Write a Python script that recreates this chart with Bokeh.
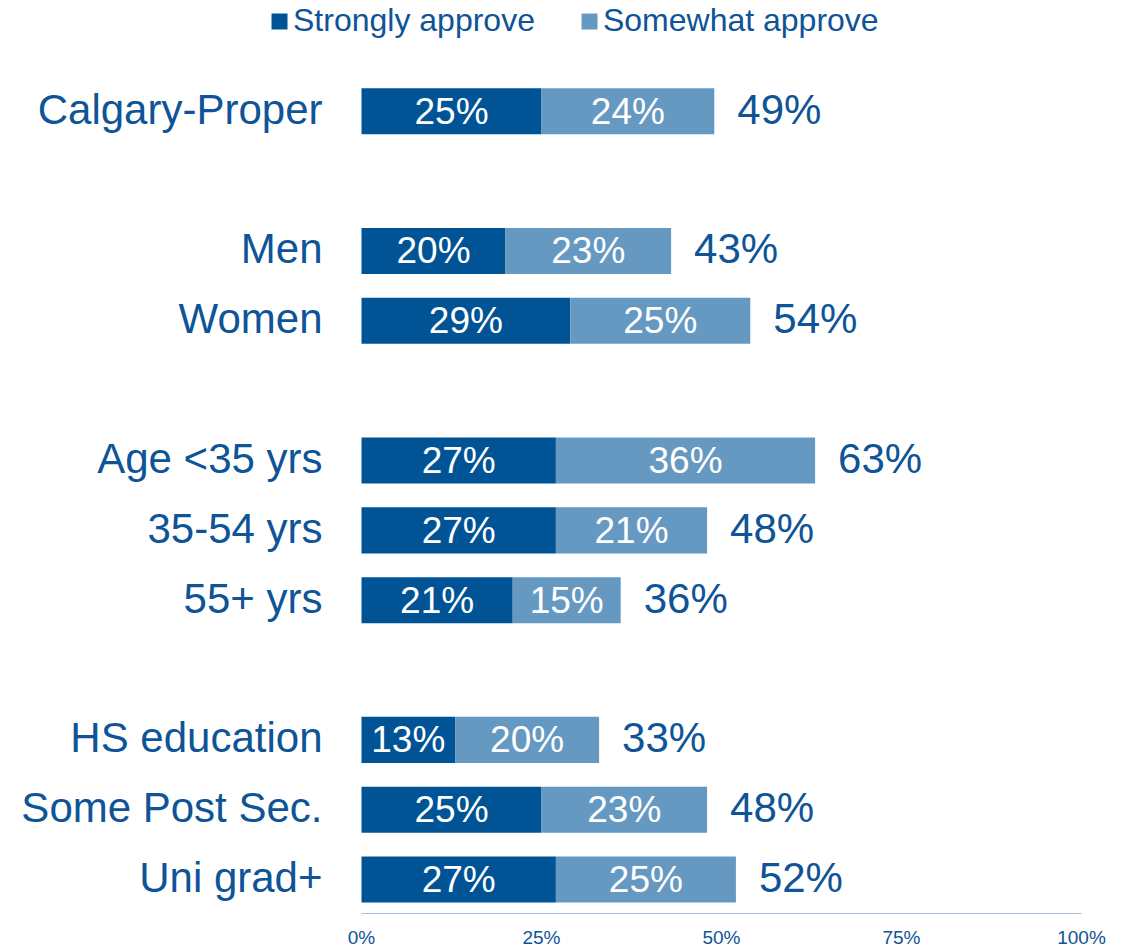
from bokeh.plotting import figure
from bokeh.models import ColumnDataSource, Range1d, FixedTicker, Legend, LegendItem
from bokeh.core.properties import value
from bokeh.embed import file_html
from bokeh.resources import INLINE

# ---- data ----
groups = [
    ["Calgary-Proper"],
    ["Men", "Women"],
    ["Age <35 yrs", "35-54 yrs", "55+ yrs"],
    ["HS education", "Some Post Sec.", "Uni grad+"],
]
strongly = [25, 20, 29, 27, 27, 21, 13, 25, 27]
somewhat = [24, 23, 25, 36, 21, 15, 20, 23, 25]
totals = [49, 43, 54, 63, 48, 36, 33, 48, 52]
series_names = ["Strongly approve", "Somewhat approve"]
x_ticks = [0, 25, 50, 75, 100]
x_tick_labels = ["0%", "25%", "50%", "75%", "100%"]

# ---- styling ----
DARK = "#005496"
LIGHT = "#6699C2"
TEXT = "#0E5497"
AXIS = "#A9C0DD"
FONT = "Liberation Sans"

# build row positions with a blank slot between groups
categories, positions = [], []
slot = 0
for g in groups:
    for name in g:
        categories.append(name)
        positions.append(slot)
        slot += 1
    slot += 1

W, H = 1120, 950
BB = 35
frame_h = H - BB
frame_w = W
zero_px = 361.0          # screen position of 0%
px_per_pct = 7.2
px_per_slot = 70.0
first_row_px = 111.0

x_start = -zero_px / px_per_pct
x_end = (frame_w - zero_px) / px_per_pct
y_top = 0 - first_row_px / px_per_slot
y_bottom = y_top + frame_h / px_per_slot

src = ColumnDataSource(dict(
    y=positions,
    cat=categories,
    zero=[0] * len(positions),
    s=strongly,
    sw=[a + b for a, b in zip(strongly, somewhat)],
    s_mid=[a / 2 for a in strongly],
    w_mid=[a + b / 2 for a, b in zip(strongly, somewhat)],
    s_lab=[f"{v}%" for v in strongly],
    w_lab=[f"{v}%" for v in somewhat],
    tot=totals,
    t_lab=[f"{v}%" for v in totals],
))

p = figure(width=W, height=H, output_backend="svg", toolbar_location=None,
           x_range=Range1d(x_start, x_end), y_range=Range1d(y_bottom, y_top),
           y_axis_location=None,
           min_border_left=0, min_border_right=0, min_border_top=0,
           min_border_bottom=BB, outline_line_color=None,
           background_fill_color="white", border_fill_color="white")
p.grid.visible = False

r1 = p.hbar(y="y", left=0, right="s", height=0.66, source=src,
            fill_color=DARK, line_color=None)
r2 = p.hbar(y="y", left="s", right="sw", height=0.66, source=src,
            fill_color=LIGHT, line_color=None)

p.text(x="s_mid", y="y", text="s_lab", source=src, text_align="center",
       text_baseline="middle", text_color="white", text_font_size="37px",
       text_font=value(FONT))
p.text(x="w_mid", y="y", text="w_lab", source=src, text_align="center",
       text_baseline="middle", text_color="white", text_font_size="37px",
       text_font=value(FONT))
p.text(x="tot", y="y", text="t_lab", source=src, text_align="left",
       text_baseline="middle", text_color=TEXT, text_font_size="42px",
       text_font=value(FONT), x_offset=23, y_offset=-2)
# category labels
p.text(x="zero", y="y", text="cat", source=src, text_align="right",
       text_baseline="middle", text_color=TEXT, text_font_size="42px",
       text_font=value(FONT), x_offset=-39, y_offset=-2)

# x axis
xa = p.xaxis[0]
xa.ticker = FixedTicker(ticks=x_ticks)
xa.bounds = (x_ticks[0], x_ticks[-1])
xa.major_label_overrides = {t: l for t, l in zip(x_ticks, x_tick_labels)}
xa.axis_line_color = AXIS
xa.axis_line_width = 1
xa.major_tick_line_color = None
xa.minor_tick_line_color = None
xa.major_tick_out = 0
xa.major_tick_in = 0
xa.major_label_standoff = 13
xa.major_label_text_font_size = "19px"
xa.major_label_text_font = FONT
xa.major_label_text_color = TEXT

legend = Legend(items=[LegendItem(label=series_names[0], renderers=[r1]),
                       LegendItem(label=series_names[1], renderers=[r2])],
                orientation="horizontal", location=(269, frame_h - 41),
                glyph_width=20, glyph_height=20, label_standoff=4, spacing=44,
                padding=0, margin=0, border_line_color=None,
                background_fill_alpha=0, label_text_font_size="32px",
                label_text_font=FONT, label_text_color=TEXT)
p.add_layout(legend, "center")

open("out.html", "w").write(file_html(p, INLINE))
